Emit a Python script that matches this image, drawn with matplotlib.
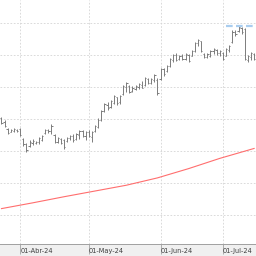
import numpy as np
import pandas as pd
import matplotlib
matplotlib.use("Agg")
import matplotlib.pyplot as plt

# daily OHLC, one entry per trading day starting 22-Mar-24
opens = [140.3, 139.0, 137.0, 136.0, 136.3, 136.6, 136.9, 133.8, 132.2, 131.6,
         132.5, 132.5, 132.8, 133.4, 135.6, 136.6, 136.2, 135.0, 132.8, 133.8,
         133.4, 133.1, 134.1, 134.7, 133.8, 135.0, 136.2, 134.7, 135.9, 134.4,
         136.2, 137.5, 139.7, 142.5, 144.4, 143.8, 145.0, 146.9, 145.3, 147.8,
         150.0, 150.3, 148.7, 149.4, 150.0, 150.6, 150.6, 152.5, 151.2, 152.2,
         152.2, 152.5, 155.6, 155.0, 156.6, 158.4, 160.0, 158.7, 159.7, 158.7,
         160.0, 159.7, 161.2, 163.8, 164.4, 160.3, 159.4, 159.7, 161.2, 161.6,
         160.6, 160.6, 159.7, 161.6, 164.1, 167.2, 167.5, 168.4, 168.1, 158.4,
         159.4, 160.3]
highs = [140.6, 139.7, 137.2, 136.9, 137.2, 136.9, 137.2, 134.1, 132.5, 133.4,
         133.8, 133.1, 134.4, 135.0, 136.9, 136.9, 138.4, 135.3, 134.4, 134.1,
         133.8, 134.4, 135.0, 135.3, 135.6, 136.6, 136.6, 136.2, 136.6, 136.2,
         138.1, 140.3, 142.8, 145.0, 145.3, 145.9, 147.5, 146.9, 147.5, 150.6,
         151.6, 150.6, 150.3, 150.6, 151.2, 151.9, 153.1, 152.8, 152.8, 154.1,
         152.8, 155.9, 155.9, 156.9, 159.1, 160.3, 160.6, 160.0, 160.3, 160.6,
         160.3, 161.6, 164.1, 165.0, 164.4, 160.6, 160.6, 161.6, 162.2, 161.9,
         161.6, 160.9, 162.2, 163.1, 167.8, 167.8, 169.1, 168.8, 168.4, 160.0,
         160.9, 160.6]
lows = [138.4, 137.5, 135.3, 135.9, 135.9, 135.9, 134.7, 131.6, 129.7, 131.3,
        131.9, 132.2, 132.2, 133.1, 135.3, 135.6, 135.3, 132.5, 132.5, 132.2,
        130.6, 132.8, 133.4, 132.8, 133.4, 133.8, 134.4, 133.4, 134.4, 132.8,
        135.9, 137.2, 139.4, 142.2, 142.8, 143.4, 144.7, 144.4, 144.7, 147.5,
        148.4, 148.1, 148.4, 149.1, 149.4, 149.7, 150.3, 150.9, 150.9, 151.6,
        147.5, 152.2, 153.4, 154.7, 156.2, 157.8, 158.1, 158.4, 158.4, 158.4,
        157.8, 159.7, 160.9, 162.8, 160.9, 159.1, 159.1, 159.4, 160.3, 160.0,
        159.7, 158.4, 159.7, 160.9, 163.8, 165.9, 167.2, 166.6, 158.4, 157.8,
        158.4, 158.4]
closes = [138.8, 137.9, 135.6, 136.6, 136.9, 136.2, 135.0, 132.2, 130.3, 132.8,
          133.1, 132.8, 134.1, 134.7, 136.6, 136.2, 137.8, 132.8, 134.1, 132.5,
          131.3, 134.1, 134.7, 133.4, 135.3, 136.2, 134.7, 135.9, 134.7, 135.9,
          137.8, 139.7, 142.5, 144.7, 143.4, 145.6, 147.2, 145.0, 147.2, 150.3,
          151.2, 148.4, 149.7, 150.3, 151.0, 149.8, 152.8, 151.2, 152.5, 153.8,
          148.1, 155.6, 154.1, 156.6, 158.7, 160.0, 158.4, 159.7, 158.7, 160.3,
          158.1, 161.2, 163.8, 164.7, 161.2, 159.4, 160.3, 161.2, 161.9, 160.6,
          161.2, 158.7, 161.9, 162.8, 167.2, 166.6, 168.8, 167.2, 158.7, 159.7,
          160.6, 158.7]

# long moving average, read every 10 bars
ma_idx = [0, 10, 20, 30, 40, 50, 60, 70, 81]
ma_vals = [112.0, 113.8, 115.7, 117.5, 119.3, 121.6, 124.5, 127.7, 130.8]

tick_labels = ["01-Abr-24", "01-May-24", "01-Jun-24", "01-Jul-24"]

dates = pd.bdate_range("2024-03-22", periods=len(closes))
idx = np.arange(len(closes))
month_start = [int(np.argmax(dates.month == m)) for m in (4, 5, 6, 7)]

fig = plt.figure(figsize=(2.56, 2.56), dpi=100, facecolor="#f0f0f0")
ax = fig.add_axes([0, 12 / 256, 1, 244 / 256])
ax.set_facecolor("white")

bar_col = "#7c7c7c"
ax.vlines(idx, lows, highs, color=bar_col, lw=0.7)
ax.hlines(opens, idx - 0.4, idx, color=bar_col, lw=0.7)
ax.hlines(closes, idx, idx + 0.4, color=bar_col, lw=0.7)

ax.plot(ma_idx, ma_vals, color="#ff6e6e", lw=0.8)

top = max(highs)
ax.hlines(top, 72, 82, color="#a9cdef", lw=1.6, linestyles=(0, (3, 1.5)))

ax.set_xlim(-0.48, 81.6)
ax.set_ylim(100.94, 177.19)

ax.set_yticks(np.arange(110, 171, 10))
ax.tick_params(axis="y", left=False, labelleft=False)
ax.set_xticks(month_start, tick_labels)
for lab in ax.get_xticklabels():
    lab.set_horizontalalignment("left")
ax.tick_params(axis="x", direction="out", length=7, width=0.6, color="#a0a0a0",
               pad=-4.3, labelsize=4.8, labelcolor="#404040")
ax.grid(True, color="#d4d4d4", lw=0.6, linestyle=(0, (2, 2)))
ax.set_axisbelow(True)

for s in ("top", "left", "right"):
    ax.spines[s].set_visible(False)
ax.spines["bottom"].set_color("#a0a0a0")
ax.spines["bottom"].set_linewidth(0.7)

fig.savefig("out.png", dpi=100, facecolor=fig.get_facecolor())
